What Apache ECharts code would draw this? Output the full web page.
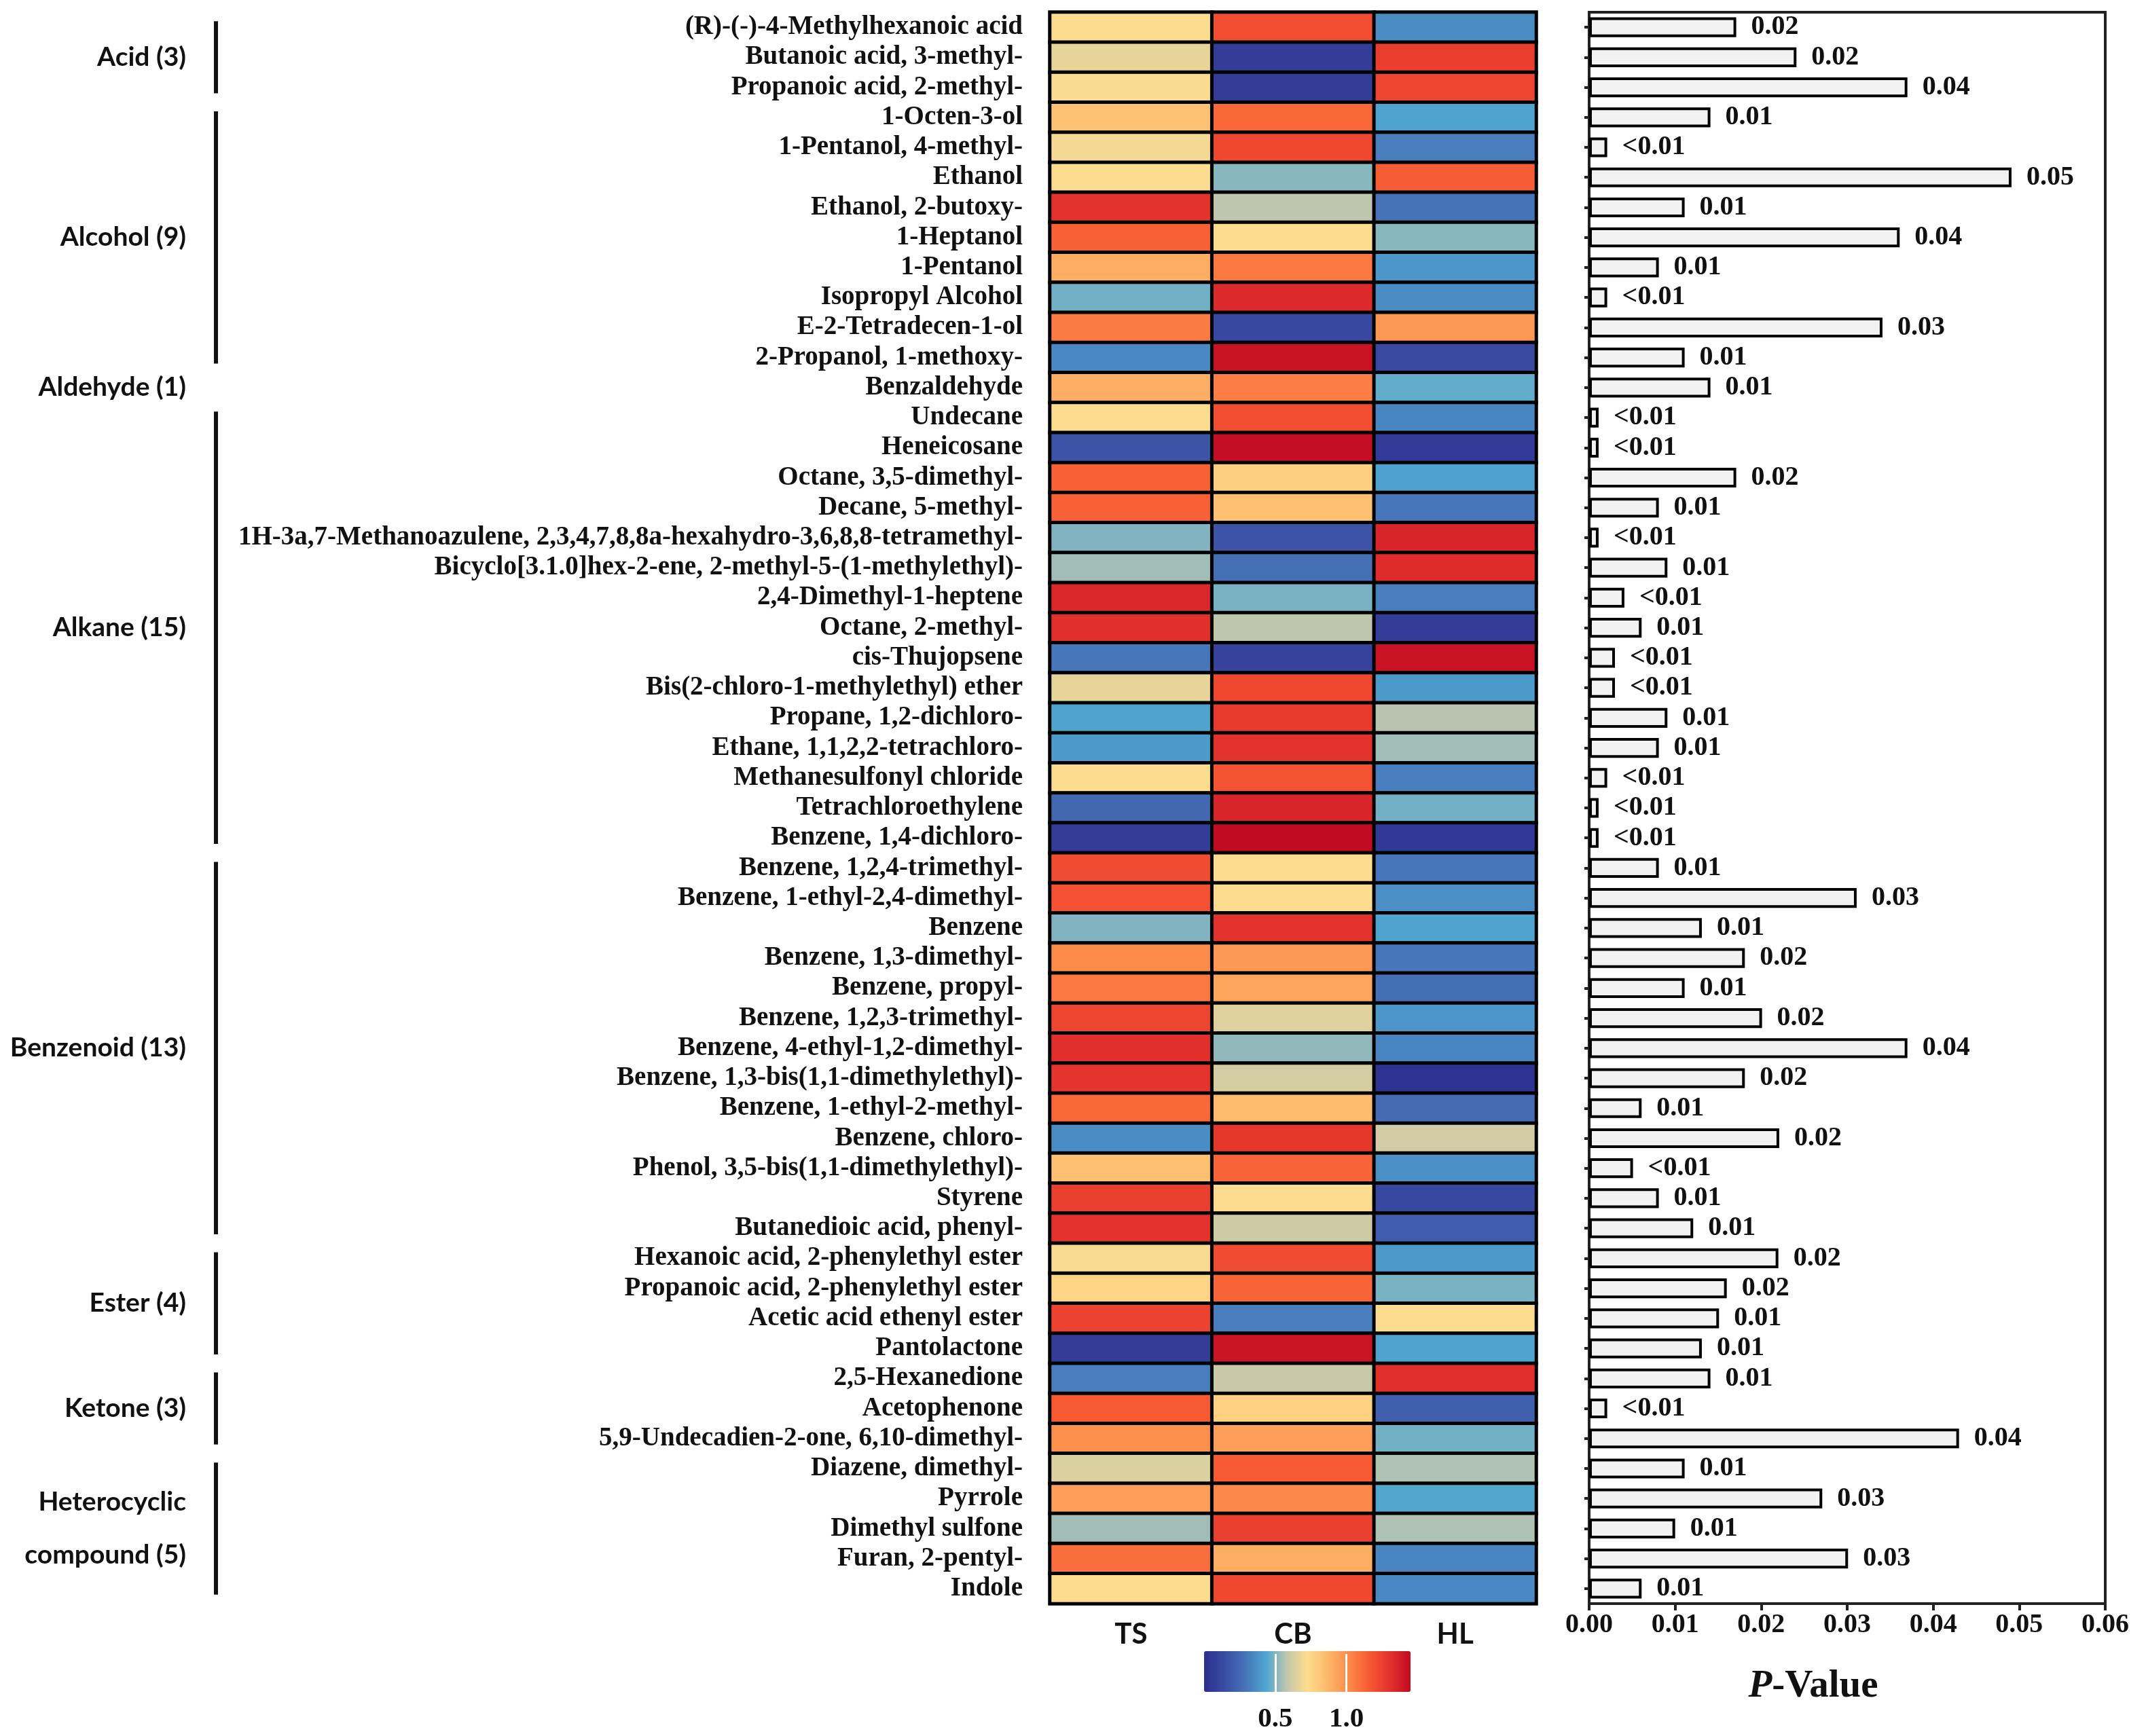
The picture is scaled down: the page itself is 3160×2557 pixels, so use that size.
<!DOCTYPE html>
<html>
<head>
<meta charset="utf-8">
<title>Heatmap and P-value</title>
<script src="https://cdn.jsdelivr.net/npm/echarts@6/dist/echarts.min.js"></script>
<style>
	html, body { margin: 0; padding: 0; background: #fff; }
	#main { width: 3160px; height: 2557px; }
</style>
</head>
<body>
<div id="main"></div>
<script>
// 化合物名称（从上到下）
var compounds = [
	'(R)-(-)-4-Methylhexanoic acid', 'Butanoic acid, 3-methyl-', 'Propanoic acid, 2-methyl-',
	'1-Octen-3-ol', '1-Pentanol, 4-methyl-', 'Ethanol', 'Ethanol, 2-butoxy-', '1-Heptanol',
	'1-Pentanol', 'Isopropyl Alcohol', 'E-2-Tetradecen-1-ol', '2-Propanol, 1-methoxy-',
	'Benzaldehyde',
	'Undecane', 'Heneicosane', 'Octane, 3,5-dimethyl-', 'Decane, 5-methyl-',
	'1H-3a,7-Methanoazulene, 2,3,4,7,8,8a-hexahydro-3,6,8,8-tetramethyl-',
	'Bicyclo[3.1.0]hex-2-ene, 2-methyl-5-(1-methylethyl)-', '2,4-Dimethyl-1-heptene',
	'Octane, 2-methyl-', 'cis-Thujopsene', 'Bis(2-chloro-1-methylethyl) ether',
	'Propane, 1,2-dichloro-', 'Ethane, 1,1,2,2-tetrachloro-', 'Methanesulfonyl chloride',
	'Tetrachloroethylene', 'Benzene, 1,4-dichloro-',
	'Benzene, 1,2,4-trimethyl-', 'Benzene, 1-ethyl-2,4-dimethyl-', 'Benzene',
	'Benzene, 1,3-dimethyl-', 'Benzene, propyl-', 'Benzene, 1,2,3-trimethyl-',
	'Benzene, 4-ethyl-1,2-dimethyl-', 'Benzene, 1,3-bis(1,1-dimethylethyl)-',
	'Benzene, 1-ethyl-2-methyl-', 'Benzene, chloro-', 'Phenol, 3,5-bis(1,1-dimethylethyl)-',
	'Styrene', 'Butanedioic acid, phenyl-',
	'Hexanoic acid, 2-phenylethyl ester', 'Propanoic acid, 2-phenylethyl ester',
	'Acetic acid ethenyl ester', 'Pantolactone',
	'2,5-Hexanedione', 'Acetophenone', '5,9-Undecadien-2-one, 6,10-dimethyl-',
	'Diazene, dimethyl-', 'Pyrrole', 'Dimethyl sulfone', 'Furan, 2-pentyl-', 'Indole'
];
var samples = ['TS', 'CB', 'HL'];

// 热图数值（按颜色估读）
var tsVals = [0.72, 0.67, 0.71, 0.83, 0.70, 0.72, 1.30, 1.14, 0.90, 0.48, 1.06, 0.35, 0.90,
	0.72, 0.17, 1.14, 1.14, 0.50, 0.54, 1.34, 1.31, 0.30, 0.67, 0.43, 0.40, 0.72, 0.25, 0.07,
	1.21, 1.19, 0.50, 1.01, 1.07, 1.23, 1.31, 1.29, 1.12, 0.36, 0.84, 1.25, 1.30,
	0.71, 0.76, 1.24, 0.07, 0.32, 1.16, 1.00, 0.64, 0.95, 0.54, 1.10, 0.72];
var cbVals = [1.20, 0.07, 0.07, 1.12, 1.22, 0.51, 0.58, 0.72, 1.07, 1.33, 0.12, 1.42, 1.05,
	1.20, 1.44, 0.78, 0.84, 0.17, 0.28, 0.49, 0.58, 0.10, 1.22, 1.27, 1.30, 1.18, 1.35, 1.45,
	0.72, 0.72, 1.30, 0.97, 0.93, 0.65, 0.52, 0.63, 0.86, 1.28, 1.13, 0.72, 0.61,
	1.21, 1.13, 0.32, 1.41, 0.60, 0.77, 0.95, 1.16, 1.02, 1.25, 0.90, 1.22];
var hlVals = [0.36, 1.26, 1.23, 0.43, 0.32, 1.15, 0.29, 0.51, 0.39, 0.36, 0.97, 0.13, 0.46,
	0.34, 0.06, 0.42, 0.30, 1.35, 1.32, 0.32, 0.07, 1.42, 0.40, 0.57, 0.54, 0.32, 0.48, 0.05,
	0.30, 0.37, 0.43, 0.30, 0.27, 0.39, 0.34, 0.02, 0.26, 0.62, 0.37, 0.12, 0.21,
	0.40, 0.49, 0.72, 0.43, 1.31, 0.22, 0.48, 0.56, 0.44, 0.56, 0.34, 0.35];

// P值
var pVals = [0.0171, 0.0241, 0.0370, 0.0141, 0.0021, 0.0491, 0.0111, 0.0361, 0.0081, 0.0021,
	0.0341, 0.0111, 0.0141,
	0.0011, 0.0011, 0.0171, 0.0081, 0.0011, 0.0091, 0.0041, 0.0061, 0.0030, 0.0030, 0.0091,
	0.0081, 0.0021, 0.0011, 0.0011,
	0.0081, 0.0311, 0.0131, 0.0181, 0.0111, 0.0201, 0.0370, 0.0181, 0.0061, 0.0221, 0.0051,
	0.0081, 0.0121,
	0.0220, 0.0160, 0.0151, 0.0131, 0.0141, 0.0021, 0.0430, 0.0111, 0.0271, 0.0100, 0.0301, 0.0061];
var pLabels = ['0.02', '0.02', '0.04', '0.01', '<0.01', '0.05', '0.01', '0.04', '0.01', '<0.01',
	'0.03', '0.01', '0.01',
	'<0.01', '<0.01', '0.02', '0.01', '<0.01', '0.01', '<0.01', '0.01', '<0.01', '<0.01', '0.01',
	'0.01', '<0.01', '<0.01', '<0.01',
	'0.01', '0.03', '0.01', '0.02', '0.01', '0.02', '0.04', '0.02', '0.01', '0.02', '<0.01',
	'0.01', '0.01',
	'0.02', '0.02', '0.01', '0.01', '0.01', '<0.01', '0.04', '0.01', '0.03', '0.01', '0.03', '0.01'];

// 分组
var groupNames = ['Acid (3)', 'Alcohol (9)', 'Aldehyde (1)', 'Alkane (15)', 'Benzenoid (13)',
	'Ester (4)', 'Ketone (3)', 'Heterocyclic\ncompound (5)'];
var groupStart = [0, 3, 12, 13, 28, 41, 45, 48];
var groupEnd = [2, 11, 12, 27, 40, 44, 47, 52];

// 色条
var colorMin = 0;
var colorMax = 1.45;
var colorTicks = [0.5, 1.0];
var colorStops = ['#2c2f8f', '#3a4ca2', '#4673b8', '#4ea6d0', '#c0c6ad', '#fedd8d',
	'#fdb86a', '#fd8a4a', '#f75a33', '#e2302c', '#c20b22'];

var serif = '"Liberation Serif", "Times New Roman", serif';
var sans = 'Lato, "Open Sans", sans-serif';

var heatData = [];
for (var i = 0; i < compounds.length; i++) {
	heatData.push([0, i, tsVals[i]]);
	heatData.push([1, i, cbVals[i]]);
	heatData.push([2, i, hlVals[i]]);
}
var groupData = [];
for (var g = 0; g < groupNames.length; g++) {
	groupData.push([groupStart[g], groupEnd[g]]);
}

function renderGroup(params, api) {
	var s = api.value(0), e = api.value(1);
	var band = api.size([0, 1])[1];
	var yTop = api.coord([0, s])[1] - band / 2;
	var yBot = api.coord([0, e])[1] + band / 2;
	var xLine = api.coord([318, s])[0];
	var xText = api.coord([274, s])[0];
	var children = [{
		type: 'text',
		style: {
			text: groupNames[params.dataIndex],
			x: xText,
			y: (yTop + yBot) / 2,
			align: 'right',
			verticalAlign: 'middle',
			fontFamily: sans,
			fontWeight: 'bold',
			fontSize: 39,
			lineHeight: 78,
			fill: '#111'
		}
	}];
	if (e > s) {
		children.push({
			type: 'line',
			shape: { x1: xLine, y1: yTop + band * 0.3, x2: xLine, y2: yBot - band * 0.3 },
			style: { stroke: '#111', lineWidth: 6 }
		});
	}
	return { type: 'group', children: children };
}

var myChart = echarts.init(document.getElementById('main'));
var option = {
	backgroundColor: '#fff',
	animation: false,
	grid: [
		{ left: 0, top: 18, width: 330, height: 2344 },
		{ left: 1546, top: 18, width: 716, height: 2344 },
		{ left: 2340, top: 18, width: 760, height: 2344, show: true, borderColor: '#222', borderWidth: 4 },
		{ left: 1773, top: 2432, width: 304, height: 60 }
	],
	xAxis: [
		{ gridIndex: 0, type: 'value', min: 0, max: 330, show: false },
		{
			gridIndex: 1, type: 'category', data: samples, position: 'bottom',
			axisLine: { show: false }, axisTick: { show: false },
			axisLabel: { margin: 24, color: '#111', fontFamily: sans, fontWeight: 'bold', fontSize: 42 }
		},
		{
			gridIndex: 2, type: 'value', min: 0, max: 0.06, interval: 0.01,
			splitLine: { show: false },
			axisLine: { show: true, lineStyle: { color: '#222', width: 4 } },
			axisTick: { show: true, length: 10, lineStyle: { color: '#222', width: 4 } },
			axisLabel: {
				margin: 12, color: '#111', fontFamily: serif, fontWeight: 'bold', fontSize: 40,
				formatter: function (v) { return v.toFixed(2); }
			},
			name: '{i|P}-Value',
			nameLocation: 'middle',
			nameGap: 94,
			nameTextStyle: {
				padding: [0, 100, 0, 0],
				color: '#111', fontFamily: serif, fontWeight: 'bold', fontSize: 57,
				rich: { i: { fontFamily: serif, fontWeight: 'bold', fontStyle: 'italic', fontSize: 57, color: '#111' } }
			}
		},
		{
			gridIndex: 3, type: 'value', min: colorMin, max: colorMax, z: 10,
			splitLine: { show: false },
			axisLine: { show: false },
			axisTick: { show: true, inside: true, length: 56, customValues: colorTicks, lineStyle: { color: '#fff', width: 3 } },
			axisLabel: {
				margin: 20, customValues: colorTicks, color: '#111', fontFamily: serif, fontWeight: 'bold', fontSize: 41,
				formatter: function (v) { return v.toFixed(1); }
			}
		}
	],
	yAxis: [
		{ gridIndex: 0, type: 'category', data: compounds, inverse: true, show: false },
		{
			gridIndex: 1, type: 'category', data: compounds, inverse: true,
			axisLine: { show: false }, axisTick: { show: false },
			axisLabel: { interval: 0, margin: 40, color: '#111', fontFamily: serif, fontWeight: 'bold', fontSize: 39 }
		},
		{
			gridIndex: 2, type: 'category', data: compounds, inverse: true,
			axisLine: { show: true, lineStyle: { color: '#222', width: 4 } },
			axisTick: { show: true, alignWithLabel: true, interval: 0, length: 7, lineStyle: { color: '#222', width: 4 } },
			axisLabel: { show: false }
		},
		{ gridIndex: 3, type: 'value', show: false }
	],
	visualMap: {
		type: 'continuous',
		seriesIndex: 1,
		min: colorMin,
		max: colorMax,
		orient: 'horizontal',
		left: 1773,
		top: 2432,
		padding: 0,
		itemWidth: 60,
		itemHeight: 304,
		calculable: false,
		text: null,
		showLabel: false,
		inRange: { color: colorStops }
	},
	series: [
		{
			type: 'custom',
			xAxisIndex: 0,
			yAxisIndex: 0,
			renderItem: renderGroup,
			clip: false,
			data: groupData
		},
		{
			type: 'heatmap',
			xAxisIndex: 1,
			yAxisIndex: 1,
			data: heatData,
			itemStyle: { borderColor: '#000', borderWidth: 5 }
		},
		{
			type: 'bar',
			xAxisIndex: 2,
			yAxisIndex: 2,
			data: pVals,
			barWidth: '66%',
			itemStyle: { color: '#f2f2f2', borderColor: '#000', borderWidth: 4 },
			label: {
				show: true,
				position: 'right',
				distance: 22,
				color: '#111',
				fontFamily: serif,
				fontWeight: 'bold',
				fontSize: 40,
				formatter: function (p) { return pLabels[p.dataIndex]; }
			}
		}
	]
};
myChart.setOption(option, true);
</script>
</body>
</html>
